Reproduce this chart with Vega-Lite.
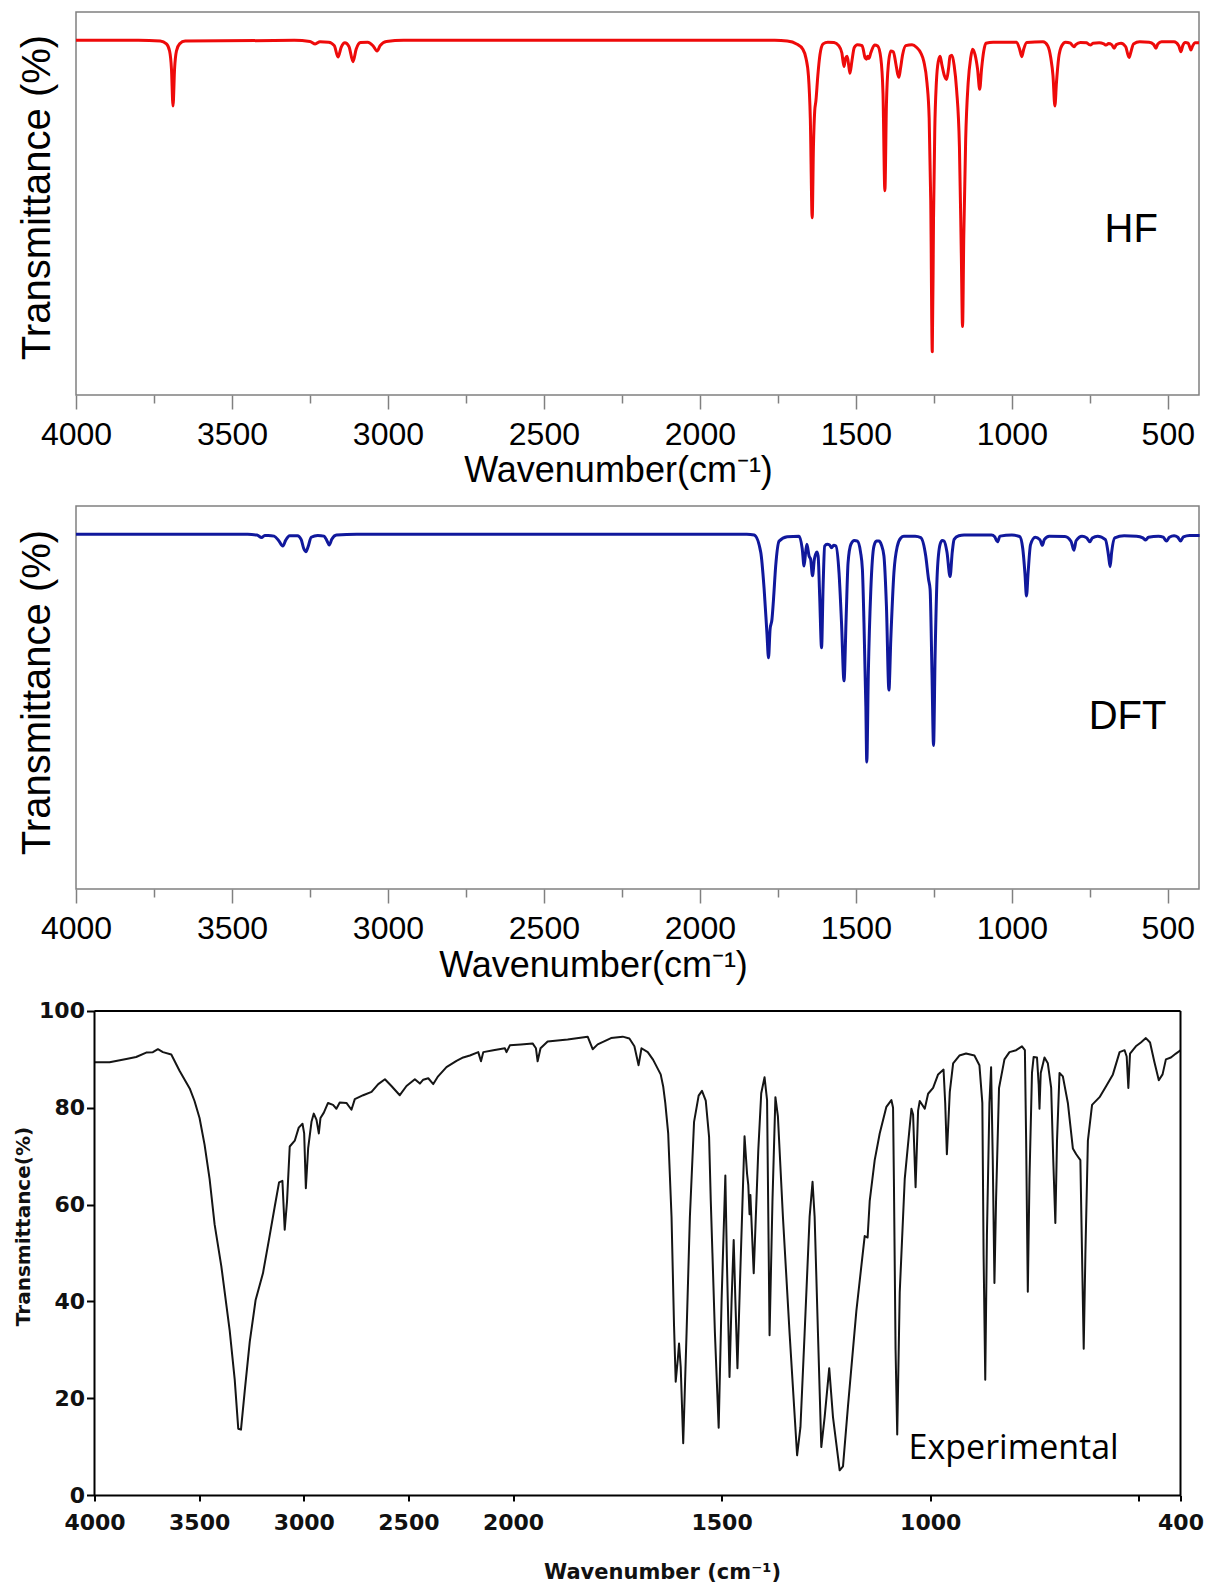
{
  "$schema": "https://vega.github.io/schema/vega-lite/v6.json",
  "background": "white",
  "padding": {"left": 13, "top": 11, "right": 0, "bottom": 0},
  "autosize": {"type": "pad"},
  "bounds": "flush",
  "center": true,
  "spacing": 111,
  "config": {
    "view": {"stroke": "#808080", "strokeWidth": 1.5},
    "axis": {"grid": false}
  },
  "datasets": {
    "hf": [
      {"wn": 4000, "t": 100}, {"wn": 3800, "t": 100}, {"wn": 3730, "t": 99.8}, {"wn": 3710, "t": 99}, {"wn": 3700, "t": 97},
      {"wn": 3694, "t": 92}, {"wn": 3689, "t": 81.5}, {"wn": 3684, "t": 92}, {"wn": 3678, "t": 97}, {"wn": 3668, "t": 99}, {"wn": 3650, "t": 99.8},
      {"wn": 3300, "t": 100}, {"wn": 3250, "t": 99.7}, {"wn": 3233, "t": 99}, {"wn": 3218, "t": 99.6}, {"wn": 3190, "t": 99.5},
      {"wn": 3172, "t": 98.5}, {"wn": 3160, "t": 95.3}, {"wn": 3150, "t": 98}, {"wn": 3138, "t": 99.3}, {"wn": 3125, "t": 98.3},
      {"wn": 3112, "t": 94}, {"wn": 3102, "t": 97.5}, {"wn": 3088, "t": 99.4}, {"wn": 3065, "t": 99.5}, {"wn": 3048, "t": 98.5},
      {"wn": 3035, "t": 97}, {"wn": 3025, "t": 98.5}, {"wn": 3005, "t": 99.7}, {"wn": 2950, "t": 100}, {"wn": 1760, "t": 100},
      {"wn": 1720, "t": 99.8}, {"wn": 1690, "t": 99}, {"wn": 1670, "t": 97.5}, {"wn": 1660, "t": 95}, {"wn": 1652, "t": 90},
      {"wn": 1646, "t": 78}, {"wn": 1640, "t": 50}, {"wn": 1636, "t": 70}, {"wn": 1632, "t": 80}, {"wn": 1628, "t": 83},
      {"wn": 1622, "t": 90}, {"wn": 1615, "t": 96}, {"wn": 1605, "t": 99}, {"wn": 1590, "t": 99.5}, {"wn": 1570, "t": 99.4},
      {"wn": 1555, "t": 98.5}, {"wn": 1545, "t": 96.5}, {"wn": 1538, "t": 92.6}, {"wn": 1533, "t": 95}, {"wn": 1528, "t": 95.5},
      {"wn": 1523, "t": 93}, {"wn": 1519, "t": 90.7}, {"wn": 1513, "t": 94}, {"wn": 1505, "t": 98}, {"wn": 1495, "t": 98.8},
      {"wn": 1480, "t": 98.5}, {"wn": 1470, "t": 95}, {"wn": 1466, "t": 94.7}, {"wn": 1462, "t": 95.5}, {"wn": 1458, "t": 94.9},
      {"wn": 1452, "t": 96.5}, {"wn": 1440, "t": 98.7}, {"wn": 1430, "t": 98.4}, {"wn": 1420, "t": 95}, {"wn": 1413, "t": 85},
      {"wn": 1407, "t": 57.6}, {"wn": 1402, "t": 82}, {"wn": 1396, "t": 93}, {"wn": 1388, "t": 97}, {"wn": 1380, "t": 96.8},
      {"wn": 1372, "t": 93.5}, {"wn": 1366, "t": 90.5}, {"wn": 1362, "t": 89.6}, {"wn": 1357, "t": 92}, {"wn": 1350, "t": 96},
      {"wn": 1340, "t": 98.5}, {"wn": 1320, "t": 98.8}, {"wn": 1305, "t": 98}, {"wn": 1292, "t": 96.5}, {"wn": 1282, "t": 94},
      {"wn": 1272, "t": 88}, {"wn": 1265, "t": 78}, {"wn": 1260, "t": 55}, {"wn": 1255, "t": 12.2}, {"wn": 1251, "t": 50},
      {"wn": 1247, "t": 75}, {"wn": 1242, "t": 88}, {"wn": 1236, "t": 94}, {"wn": 1230, "t": 95.5}, {"wn": 1224, "t": 93},
      {"wn": 1216, "t": 90}, {"wn": 1209, "t": 89}, {"wn": 1203, "t": 92}, {"wn": 1198, "t": 95.5}, {"wn": 1192, "t": 95.8},
      {"wn": 1185, "t": 93}, {"wn": 1177, "t": 86}, {"wn": 1168, "t": 70}, {"wn": 1162, "t": 40}, {"wn": 1158, "t": 19.3},
      {"wn": 1154, "t": 45}, {"wn": 1148, "t": 72}, {"wn": 1140, "t": 88}, {"wn": 1132, "t": 95}, {"wn": 1126, "t": 97.5},
      {"wn": 1118, "t": 96}, {"wn": 1110, "t": 92}, {"wn": 1103, "t": 86.2}, {"wn": 1097, "t": 92}, {"wn": 1090, "t": 97},
      {"wn": 1083, "t": 99.2}, {"wn": 1060, "t": 99.5}, {"wn": 985, "t": 99.5}, {"wn": 975, "t": 97.5}, {"wn": 968, "t": 95.4},
      {"wn": 962, "t": 97.5}, {"wn": 952, "t": 99.4}, {"wn": 900, "t": 99.6}, {"wn": 885, "t": 98.5}, {"wn": 875, "t": 95},
      {"wn": 868, "t": 90}, {"wn": 862, "t": 81.5}, {"wn": 857, "t": 88}, {"wn": 850, "t": 95}, {"wn": 840, "t": 98.5},
      {"wn": 828, "t": 99.5}, {"wn": 812, "t": 99.2}, {"wn": 805, "t": 98.5}, {"wn": 800, "t": 98.2}, {"wn": 795, "t": 98.8},
      {"wn": 780, "t": 99.4}, {"wn": 760, "t": 99.3}, {"wn": 752, "t": 98.8}, {"wn": 747, "t": 98.7}, {"wn": 740, "t": 99.2},
      {"wn": 720, "t": 99.3}, {"wn": 705, "t": 99}, {"wn": 698, "t": 98.7}, {"wn": 690, "t": 99.1}, {"wn": 680, "t": 98.8},
      {"wn": 672, "t": 97.8}, {"wn": 665, "t": 98.8}, {"wn": 650, "t": 99.2}, {"wn": 635, "t": 98.2}, {"wn": 628, "t": 96},
      {"wn": 624, "t": 95.2}, {"wn": 619, "t": 96.5}, {"wn": 610, "t": 99}, {"wn": 590, "t": 99.6}, {"wn": 560, "t": 99.5},
      {"wn": 545, "t": 98.8}, {"wn": 538, "t": 97.8}, {"wn": 532, "t": 99}, {"wn": 520, "t": 99.6}, {"wn": 480, "t": 99.6},
      {"wn": 465, "t": 98.5}, {"wn": 458, "t": 96.8}, {"wn": 452, "t": 98.5}, {"wn": 444, "t": 99.4}, {"wn": 435, "t": 99.2},
      {"wn": 430, "t": 98.2}, {"wn": 426, "t": 97.3}, {"wn": 421, "t": 98.3}, {"wn": 412, "t": 99.3}, {"wn": 400, "t": 99.3}
    ],
    "dft": [
      {"wn": 4000, "t": 100}, {"wn": 3450, "t": 100}, {"wn": 3420, "t": 99.8}, {"wn": 3405, "t": 99.1}, {"wn": 3395, "t": 99.7},
      {"wn": 3384, "t": 99.7}, {"wn": 3365, "t": 99.5}, {"wn": 3350, "t": 98.2}, {"wn": 3337, "t": 96.7}, {"wn": 3328, "t": 98.3},
      {"wn": 3315, "t": 99.6}, {"wn": 3290, "t": 99.6}, {"wn": 3278, "t": 98.5}, {"wn": 3270, "t": 96}, {"wn": 3263, "t": 95.1},
      {"wn": 3256, "t": 96.5}, {"wn": 3246, "t": 99.2}, {"wn": 3225, "t": 99.7}, {"wn": 3205, "t": 99.5}, {"wn": 3196, "t": 98.3},
      {"wn": 3188, "t": 97}, {"wn": 3180, "t": 98.6}, {"wn": 3165, "t": 99.8}, {"wn": 3100, "t": 100}, {"wn": 1850, "t": 100},
      {"wn": 1826, "t": 99.8}, {"wn": 1805, "t": 95}, {"wn": 1794, "t": 84.5}, {"wn": 1785, "t": 72}, {"wn": 1780, "t": 65.2},
      {"wn": 1775, "t": 73.2}, {"wn": 1769, "t": 76}, {"wn": 1764, "t": 81.7}, {"wn": 1757, "t": 91.1}, {"wn": 1746, "t": 98.1},
      {"wn": 1720, "t": 99.3}, {"wn": 1682, "t": 99.5}, {"wn": 1672, "t": 96}, {"wn": 1666, "t": 91.1}, {"wn": 1661, "t": 95},
      {"wn": 1657, "t": 97.2}, {"wn": 1650, "t": 93.9}, {"wn": 1645, "t": 93}, {"wn": 1639, "t": 88.3}, {"wn": 1633, "t": 93},
      {"wn": 1629, "t": 94.4}, {"wn": 1625, "t": 95}, {"wn": 1621, "t": 93.9}, {"wn": 1616, "t": 82.6}, {"wn": 1610, "t": 68},
      {"wn": 1605, "t": 85.4}, {"wn": 1600, "t": 96.7}, {"wn": 1592, "t": 97.2}, {"wn": 1584, "t": 97}, {"wn": 1578, "t": 96.2},
      {"wn": 1571, "t": 96.9}, {"wn": 1564, "t": 96.7}, {"wn": 1554, "t": 89.2}, {"wn": 1546, "t": 75.1}, {"wn": 1538, "t": 58.7},
      {"wn": 1531, "t": 77}, {"wn": 1525, "t": 92}, {"wn": 1516, "t": 97.2}, {"wn": 1505, "t": 98.3}, {"wn": 1495, "t": 98.1},
      {"wn": 1485, "t": 95}, {"wn": 1479, "t": 90.1}, {"wn": 1474, "t": 75.1}, {"wn": 1468, "t": 51.6}, {"wn": 1465, "t": 35.8},
      {"wn": 1460, "t": 61}, {"wn": 1452, "t": 84.5}, {"wn": 1442, "t": 96.7}, {"wn": 1434, "t": 98.1}, {"wn": 1426, "t": 98.1},
      {"wn": 1418, "t": 97}, {"wn": 1410, "t": 93.9}, {"wn": 1402, "t": 79.8}, {"wn": 1394, "t": 56.1}, {"wn": 1388, "t": 70.4},
      {"wn": 1378, "t": 89.2}, {"wn": 1367, "t": 96.7}, {"wn": 1356, "t": 99}, {"wn": 1346, "t": 99.5}, {"wn": 1310, "t": 99.5},
      {"wn": 1292, "t": 99.1}, {"wn": 1276, "t": 93.9}, {"wn": 1267, "t": 87.3}, {"wn": 1262, "t": 84.5}, {"wn": 1256, "t": 61},
      {"wn": 1251, "t": 40.5}, {"wn": 1246, "t": 65.7}, {"wn": 1239, "t": 89.2}, {"wn": 1230, "t": 97.2}, {"wn": 1223, "t": 98.3},
      {"wn": 1217, "t": 98.1}, {"wn": 1208, "t": 95}, {"wn": 1198, "t": 88.1}, {"wn": 1191, "t": 95}, {"wn": 1185, "t": 98.6},
      {"wn": 1170, "t": 99.6}, {"wn": 1153, "t": 99.8}, {"wn": 1065, "t": 99.8}, {"wn": 1055, "t": 99.3}, {"wn": 1046, "t": 97.9},
      {"wn": 1038, "t": 99.5}, {"wn": 1000, "t": 99.8}, {"wn": 975, "t": 99.4}, {"wn": 965, "t": 96}, {"wn": 958, "t": 89},
      {"wn": 953, "t": 82.6}, {"wn": 948, "t": 89}, {"wn": 940, "t": 97.1}, {"wn": 925, "t": 99.2}, {"wn": 910, "t": 98.5},
      {"wn": 902, "t": 96.9}, {"wn": 896, "t": 98.5}, {"wn": 880, "t": 99.5}, {"wn": 830, "t": 99.4}, {"wn": 810, "t": 98},
      {"wn": 801, "t": 95.5}, {"wn": 794, "t": 98.2}, {"wn": 775, "t": 99.5}, {"wn": 760, "t": 99}, {"wn": 750, "t": 97.9},
      {"wn": 742, "t": 99}, {"wn": 725, "t": 99.5}, {"wn": 700, "t": 98.5}, {"wn": 690, "t": 94}, {"wn": 685, "t": 90.9},
      {"wn": 680, "t": 95}, {"wn": 670, "t": 99}, {"wn": 640, "t": 99.6}, {"wn": 600, "t": 99.5}, {"wn": 580, "t": 99},
      {"wn": 571, "t": 98.4}, {"wn": 562, "t": 99.2}, {"wn": 530, "t": 99.5}, {"wn": 515, "t": 99.2}, {"wn": 504, "t": 98.1},
      {"wn": 495, "t": 99.2}, {"wn": 480, "t": 99.6}, {"wn": 468, "t": 99.2}, {"wn": 459, "t": 98.1}, {"wn": 450, "t": 99.3},
      {"wn": 430, "t": 99.7}, {"wn": 398, "t": 99.7}
    ],
    "exp": [
      {"wn": 4000, "t": 89.4}, {"wn": 3928, "t": 89.4}, {"wn": 3848, "t": 90.1}, {"wn": 3801, "t": 90.5}, {"wn": 3753, "t": 91.4},
      {"wn": 3721, "t": 91.5}, {"wn": 3697, "t": 92.1}, {"wn": 3673, "t": 91.5}, {"wn": 3633, "t": 91}, {"wn": 3593, "t": 87.6},
      {"wn": 3545, "t": 84}, {"wn": 3522, "t": 81.4}, {"wn": 3498, "t": 77.9}, {"wn": 3474, "t": 72.4}, {"wn": 3450, "t": 65.3},
      {"wn": 3426, "t": 55.9}, {"wn": 3394, "t": 47.3}, {"wn": 3354, "t": 34}, {"wn": 3330, "t": 23.9}, {"wn": 3313, "t": 13.7},
      {"wn": 3300, "t": 13.5}, {"wn": 3282, "t": 21.5}, {"wn": 3258, "t": 31.7}, {"wn": 3230, "t": 40.3}, {"wn": 3195, "t": 45.8},
      {"wn": 3166, "t": 52.8}, {"wn": 3139, "t": 59.5}, {"wn": 3118, "t": 64.6}, {"wn": 3102, "t": 64.9}, {"wn": 3091, "t": 54.8},
      {"wn": 3080, "t": 60.6}, {"wn": 3067, "t": 72}, {"wn": 3043, "t": 73.2}, {"wn": 3024, "t": 75.9}, {"wn": 3006, "t": 76.7},
      {"wn": 2998, "t": 74.7}, {"wn": 2990, "t": 63.4}, {"wn": 2979, "t": 71.6}, {"wn": 2963, "t": 77.1}, {"wn": 2952, "t": 78.8},
      {"wn": 2939, "t": 77.5}, {"wn": 2928, "t": 74.7}, {"wn": 2920, "t": 77.9}, {"wn": 2904, "t": 79}, {"wn": 2884, "t": 81},
      {"wn": 2860, "t": 80.6}, {"wn": 2844, "t": 79.8}, {"wn": 2828, "t": 81.1}, {"wn": 2796, "t": 81}, {"wn": 2772, "t": 79.6},
      {"wn": 2756, "t": 81.8}, {"wn": 2716, "t": 82.6}, {"wn": 2676, "t": 83.3}, {"wn": 2644, "t": 84.9}, {"wn": 2612, "t": 85.9},
      {"wn": 2581, "t": 84.5}, {"wn": 2541, "t": 82.6}, {"wn": 2509, "t": 84.5}, {"wn": 2469, "t": 85.9}, {"wn": 2445, "t": 85},
      {"wn": 2429, "t": 85.8}, {"wn": 2405, "t": 86.1}, {"wn": 2381, "t": 84.9}, {"wn": 2358, "t": 86.5}, {"wn": 2318, "t": 88.4},
      {"wn": 2270, "t": 89.7}, {"wn": 2238, "t": 90.4}, {"wn": 2206, "t": 90.8}, {"wn": 2166, "t": 91.5}, {"wn": 2153, "t": 89.6},
      {"wn": 2142, "t": 91.5}, {"wn": 2094, "t": 91.9}, {"wn": 2039, "t": 92.3}, {"wn": 2031, "t": 91.5}, {"wn": 2015, "t": 92.9},
      {"wn": 1981, "t": 93.1}, {"wn": 1953, "t": 93.3}, {"wn": 1945, "t": 92.3}, {"wn": 1941, "t": 89.6}, {"wn": 1934, "t": 92.3},
      {"wn": 1917, "t": 93.7}, {"wn": 1869, "t": 94.1}, {"wn": 1821, "t": 94.7}, {"wn": 1809, "t": 92.1}, {"wn": 1797, "t": 93.1},
      {"wn": 1765, "t": 94.4}, {"wn": 1737, "t": 94.7}, {"wn": 1721, "t": 94.3}, {"wn": 1709, "t": 92.7}, {"wn": 1699, "t": 88.8},
      {"wn": 1692, "t": 92.3}, {"wn": 1677, "t": 91.5}, {"wn": 1664, "t": 89.9}, {"wn": 1646, "t": 86.9}, {"wn": 1640, "t": 84.4},
      {"wn": 1635, "t": 81}, {"wn": 1628, "t": 74.7}, {"wn": 1620, "t": 57.5}, {"wn": 1614, "t": 35}, {"wn": 1610, "t": 23.4},
      {"wn": 1605, "t": 28}, {"wn": 1602, "t": 31.3}, {"wn": 1598, "t": 26.5}, {"wn": 1592, "t": 10.7}, {"wn": 1584, "t": 33.4},
      {"wn": 1576, "t": 57.5}, {"wn": 1566, "t": 77.1}, {"wn": 1555, "t": 82.5}, {"wn": 1547, "t": 83.5}, {"wn": 1538, "t": 81.5},
      {"wn": 1530, "t": 74}, {"wn": 1526, "t": 61}, {"wn": 1522, "t": 50}, {"wn": 1516, "t": 33.4}, {"wn": 1507, "t": 13.9},
      {"wn": 1500, "t": 40.3}, {"wn": 1491, "t": 66}, {"wn": 1487, "t": 47.2}, {"wn": 1481, "t": 24.4}, {"wn": 1476, "t": 40.3},
      {"wn": 1471, "t": 52.7}, {"wn": 1467, "t": 40.3}, {"wn": 1462, "t": 26.2}, {"wn": 1456, "t": 43.7}, {"wn": 1445, "t": 74.1},
      {"wn": 1439, "t": 66.4}, {"wn": 1436, "t": 64}, {"wn": 1433, "t": 58}, {"wn": 1431, "t": 62}, {"wn": 1423, "t": 45.8},
      {"wn": 1412, "t": 71.3}, {"wn": 1405, "t": 83}, {"wn": 1397, "t": 86.3}, {"wn": 1391, "t": 81.6}, {"wn": 1385, "t": 33},
      {"wn": 1378, "t": 61}, {"wn": 1371, "t": 82.2}, {"wn": 1365, "t": 78.2}, {"wn": 1353, "t": 57.5}, {"wn": 1337, "t": 33.4},
      {"wn": 1319, "t": 8.2}, {"wn": 1311, "t": 14}, {"wn": 1301, "t": 33.4}, {"wn": 1289, "t": 57.5}, {"wn": 1282, "t": 64.7},
      {"wn": 1277, "t": 57.5}, {"wn": 1269, "t": 33.4}, {"wn": 1261, "t": 9.9}, {"wn": 1253, "t": 16.1}, {"wn": 1242, "t": 26.2},
      {"wn": 1233, "t": 16.1}, {"wn": 1217, "t": 5.1}, {"wn": 1209, "t": 5.9}, {"wn": 1197, "t": 18.4}, {"wn": 1177, "t": 38},
      {"wn": 1157, "t": 53.5}, {"wn": 1150, "t": 53.2}, {"wn": 1145, "t": 60.7}, {"wn": 1133, "t": 69.2}, {"wn": 1121, "t": 74.7},
      {"wn": 1105, "t": 80.2}, {"wn": 1093, "t": 81.6}, {"wn": 1089, "t": 80}, {"wn": 1087, "t": 65.3}, {"wn": 1083, "t": 30.1},
      {"wn": 1079, "t": 12.5}, {"wn": 1073, "t": 41.9}, {"wn": 1061, "t": 65.3}, {"wn": 1045, "t": 79.8}, {"wn": 1041, "t": 78.6},
      {"wn": 1035, "t": 63.6}, {"wn": 1029, "t": 79.4}, {"wn": 1025, "t": 81.4}, {"wn": 1013, "t": 79.8}, {"wn": 1005, "t": 82.9},
      {"wn": 993, "t": 84.1}, {"wn": 981, "t": 86.9}, {"wn": 968, "t": 87.9}, {"wn": 964, "t": 81}, {"wn": 960, "t": 70.4},
      {"wn": 953, "t": 83.3}, {"wn": 945, "t": 89.2}, {"wn": 930, "t": 90.8}, {"wn": 914, "t": 91.2}, {"wn": 894, "t": 90.8},
      {"wn": 882, "t": 88.8}, {"wn": 875, "t": 81}, {"wn": 872, "t": 49.7}, {"wn": 868, "t": 23.8}, {"wn": 864, "t": 53.6},
      {"wn": 858, "t": 81}, {"wn": 854, "t": 88.4}, {"wn": 850, "t": 69.2}, {"wn": 846, "t": 43.8}, {"wn": 842, "t": 61.4},
      {"wn": 835, "t": 84.1}, {"wn": 822, "t": 90}, {"wn": 810, "t": 91.5}, {"wn": 794, "t": 91.9}, {"wn": 780, "t": 92.7},
      {"wn": 773, "t": 91.9}, {"wn": 770, "t": 73.2}, {"wn": 766, "t": 42}, {"wn": 762, "t": 65.3}, {"wn": 756, "t": 87.2},
      {"wn": 752, "t": 90.5}, {"wn": 744, "t": 90.4}, {"wn": 740, "t": 84.9}, {"wn": 738, "t": 79.8}, {"wn": 735, "t": 87.2},
      {"wn": 726, "t": 90.4}, {"wn": 718, "t": 89.2}, {"wn": 710, "t": 84.1}, {"wn": 705, "t": 69.2}, {"wn": 700, "t": 56.2},
      {"wn": 696, "t": 73.2}, {"wn": 690, "t": 87.2}, {"wn": 682, "t": 86.5}, {"wn": 670, "t": 81}, {"wn": 658, "t": 71.6},
      {"wn": 650, "t": 70.4}, {"wn": 640, "t": 69.2}, {"wn": 636, "t": 49.7}, {"wn": 632, "t": 30.2}, {"wn": 628, "t": 49.7},
      {"wn": 622, "t": 73.2}, {"wn": 612, "t": 80.6}, {"wn": 594, "t": 82.2}, {"wn": 578, "t": 84.5}, {"wn": 562, "t": 86.9},
      {"wn": 546, "t": 91.5}, {"wn": 534, "t": 91.9}, {"wn": 529, "t": 90.6}, {"wn": 525, "t": 84.1}, {"wn": 521, "t": 91.2},
      {"wn": 507, "t": 92.7}, {"wn": 495, "t": 93.5}, {"wn": 483, "t": 94.4}, {"wn": 473, "t": 93.5}, {"wn": 463, "t": 89.6},
      {"wn": 452, "t": 85.7}, {"wn": 443, "t": 86.9}, {"wn": 435, "t": 90}, {"wn": 423, "t": 90.4}, {"wn": 411, "t": 91.2},
      {"wn": 400, "t": 91.9}
    ]
  },
  "vconcat": [
    {
      "width": 1123,
      "height": 383,
      "layer": [
        {
          "data": {"name": "hf"},
          "mark": {"type": "line", "color": "#ee0a0a", "strokeWidth": 3, "interpolate": "monotone", "strokeJoin": "round"},
          "encoding": {
            "x": {
              "field": "wn", "type": "quantitative",
              "scale": {"domain": [4000, 400], "nice": false, "zero": false},
              "axis": {
                "orient": "bottom", "values": [4000, 3500, 3000, 2500, 2000, 1500, 1000, 500], "format": "d",
                "domain": false, "tickSize": 14, "tickColor": "#808080", "tickWidth": 1.5,
                "labelFont": "Liberation Sans", "labelFontSize": 32, "labelColor": "black", "labelBaseline": "middle",
                "labelPadding": 25, "labelFlush": false, "labelOverlap": false,
                "title": "Wavenumber(cm\u207b\u00b9)", "titleFont": "Liberation Sans", "titleFontSize": 36, "titleFontWeight": "normal",
                "titleColor": "black", "titleX": 542, "titleY": 75, "titleBaseline": "middle", "titleAlign": "center"
              }
            },
            "y": {
              "field": "t", "type": "quantitative",
              "scale": {"domain": [0, 108], "nice": false, "zero": false},
              "axis": {
                "labels": false, "ticks": false, "domain": false,
                "title": "Transmittance (%)", "titleFont": "Liberation Sans", "titleFontSize": 40, "titleFontWeight": "normal",
                "titleColor": "black", "titleX": -39, "titleY": 185, "titleAngle": 270, "titleBaseline": "middle", "titleAlign": "center"
              }
            }
          }
        },
        {
          "data": {"values": [{}]},
          "mark": {"type": "text", "text": "HF", "font": "Liberation Sans", "fontSize": 40, "align": "center", "baseline": "middle", "color": "black"},
          "encoding": {
            "x": {
              "datum": 617.5, "type": "quantitative",
              "axis": {"orient": "bottom", "values": [3750, 3250, 2750, 2250, 1750, 1250, 750], "labels": false, "domain": false,
                       "tickSize": 8, "tickColor": "#808080", "tickWidth": 1.5, "title": null}
            },
            "y": {"datum": 46.5, "type": "quantitative"}
          }
        }
      ],
      "resolve": {"axis": {"x": "independent"}}
    },
    {
      "width": 1123,
      "height": 383,
      "layer": [
        {
          "data": {"name": "dft"},
          "mark": {"type": "line", "color": "#10189c", "strokeWidth": 3, "interpolate": "monotone", "strokeJoin": "round"},
          "encoding": {
            "x": {
              "field": "wn", "type": "quantitative",
              "scale": {"domain": [4000, 400], "nice": false, "zero": false},
              "axis": {
                "orient": "bottom", "values": [4000, 3500, 3000, 2500, 2000, 1500, 1000, 500], "format": "d",
                "domain": false, "tickSize": 14, "tickColor": "#808080", "tickWidth": 1.5,
                "labelFont": "Liberation Sans", "labelFontSize": 32, "labelColor": "black", "labelBaseline": "middle",
                "labelPadding": 25, "labelFlush": false, "labelOverlap": false,
                "title": "Wavenumber(cm\u207b\u00b9)", "titleFont": "Liberation Sans", "titleFontSize": 36, "titleFontWeight": "normal",
                "titleColor": "black", "titleX": 517, "titleY": 76, "titleBaseline": "middle", "titleAlign": "center"
              }
            },
            "y": {
              "field": "t", "type": "quantitative",
              "scale": {"domain": [0, 108], "nice": false, "zero": false},
              "axis": {
                "labels": false, "ticks": false, "domain": false,
                "title": "Transmittance (%)", "titleFont": "Liberation Sans", "titleFontSize": 40, "titleFontWeight": "normal",
                "titleColor": "black", "titleX": -39, "titleY": 186, "titleAngle": 270, "titleBaseline": "middle", "titleAlign": "center"
              }
            }
          }
        },
        {
          "data": {"values": [{}]},
          "mark": {"type": "text", "text": "DFT", "font": "Liberation Sans", "fontSize": 40, "align": "center", "baseline": "middle", "color": "black"},
          "encoding": {
            "x": {
              "datum": 629, "type": "quantitative",
              "axis": {"orient": "bottom", "values": [3750, 3250, 2750, 2250, 1750, 1250, 750], "labels": false, "domain": false,
                       "tickSize": 8, "tickColor": "#808080", "tickWidth": 1.5, "title": null}
            },
            "y": {"datum": 48.4, "type": "quantitative"}
          }
        }
      ],
      "resolve": {"axis": {"x": "independent"}}
    },
    {
      "width": 1086,
      "height": 495,
      "view": {"stroke": null},
      "layer": [
        {
          "data": {"name": "exp"},
          "mark": {"type": "line", "color": "#151515", "strokeWidth": 2, "interpolate": "linear", "strokeJoin": "round"},
          "encoding": {
            "x": {
              "field": "wn", "type": "quantitative",
              "scale": {"domain": [4000, 2000, 400], "range": [0, 418.5, 1086], "nice": false, "zero": false},
              "axis": {
                "orient": "bottom", "values": [4000, 3500, 3000, 2500, 2000, 1500, 1000, 500, 400], "format": "d",
                "labelExpr": "datum.value == 500 ? '' : datum.label",
                "domain": true, "domainColor": "black", "domainWidth": 2,
                "tickSize": 6, "tickColor": "black", "tickWidth": 2,
                "labelFont": "DejaVu Sans", "labelFontWeight": "bold", "labelFontSize": 22, "labelColor": "#111",
                "labelBaseline": "middle", "labelPadding": 21, "labelFlush": false, "labelOverlap": false,
                "title": "Wavenumber (cm\u207b\u00b9)", "titleFont": "DejaVu Sans", "titleFontSize": 21, "titleFontWeight": "bold",
                "titleColor": "#111", "titleX": 567.5, "titleY": 77, "titleBaseline": "middle", "titleAlign": "center"
              }
            },
            "y": {
              "field": "t", "type": "quantitative",
              "scale": {"domain": [0, 102.27], "nice": false, "zero": false},
              "axis": {
                "values": [0, 20, 40, 60, 80, 100], "domain": false,
                "tickSize": 8, "tickColor": "black", "tickWidth": 2,
                "labelFont": "DejaVu Sans", "labelFontWeight": "bold", "labelFontSize": 22, "labelColor": "#111", "labelPadding": 2,
                "title": "Transmittance(%)", "titleFont": "DejaVu Sans", "titleFontSize": 20, "titleFontWeight": "bold",
                "titleColor": "#111", "titleX": -71.5, "titleY": 226, "titleAngle": 270, "titleBaseline": "middle", "titleAlign": "center"
              }
            }
          }
        },
        {
          "data": {"values": [{}]},
          "mark": {"type": "rule", "color": "black", "strokeWidth": 2},
          "encoding": {
            "x": {"datum": 4000, "type": "quantitative"},
            "x2": {"datum": 400},
            "y": {"datum": 100, "type": "quantitative"}
          }
        },
        {
          "data": {"values": [{}]},
          "mark": {"type": "rule", "color": "black", "strokeWidth": 2},
          "encoding": {
            "x": {"datum": 4000, "type": "quantitative"},
            "y": {"datum": 0, "type": "quantitative"},
            "y2": {"datum": 100}
          }
        },
        {
          "data": {"values": [{}]},
          "mark": {"type": "rule", "color": "black", "strokeWidth": 2},
          "encoding": {
            "x": {"datum": 400, "type": "quantitative"},
            "y": {"datum": 0, "type": "quantitative"},
            "y2": {"datum": 100}
          }
        },
        {
          "data": {"values": [{}]},
          "mark": {"type": "text", "text": "Experimental", "font": "Open Sans", "fontSize": 34, "align": "center", "baseline": "middle", "color": "black"},
          "encoding": {
            "x": {"datum": 800, "type": "quantitative"},
            "y": {"datum": 9.6, "type": "quantitative"}
          }
        }
      ]
    }
  ]
}
